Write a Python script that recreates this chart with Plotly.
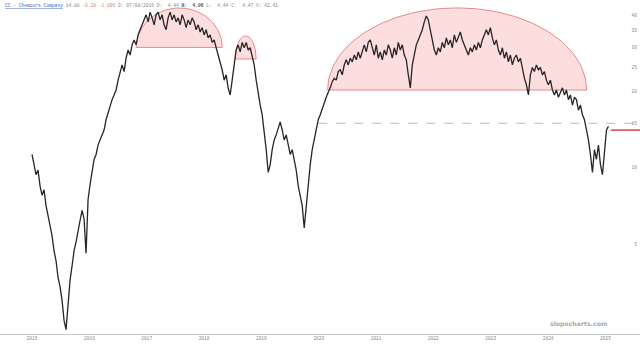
import numpy as np
import pandas as pd
import plotly.graph_objects as go

# ---- data (adjusted close, log scale) ----
start_date = "2015-07-01"
p2015 = [11.3, 10.3, 9.4, 9.8, 8.5, 7.8, 8.2, 7.1, 6.5, 6.0, 5.4, 4.7, 4.3, 3.7,
         3.4, 3.0, 2.5, 2.3, 3.0, 3.6, 4.1, 4.7, 5.1, 5.7, 6.2, 6.8, 6.3, 4.6]
p2016 = [7.5, 8.6, 9.8, 10.8, 11.3, 12.3, 12.9, 13.5, 14.1, 15.5, 16.6, 17.7, 18.6, 19.4,
         20.3, 22.2, 24.0, 25.5, 24.0, 27.1, 29.2, 27.9, 30.6, 32.0, 30.6, 33.5, 35.1, 36.7]
p2017 = [38.4, 40.2, 37.7, 41.2, 39.1, 36.7, 40.2, 41.2, 38.4, 40.2, 36.7, 35.1, 39.1, 41.2,
         38.4, 40.2, 37.7, 39.1, 36.7, 40.2, 38.4, 35.8, 38.4, 36.7, 39.1, 37.7, 35.1, 36.7]
p2018 = [34.4, 35.8, 33.5, 35.1, 32.6, 33.5, 31.3, 32.0, 29.8, 27.9, 26.2, 24.4, 22.2, 23.3,
         20.7, 19.4, 22.2, 26.2, 29.2, 30.6, 28.7, 31.3, 29.8, 31.3, 29.2, 29.8, 27.1, 25.5]
p2019 = [22.2, 19.4, 17.7, 16.2, 14.1, 11.8, 9.6, 10.3, 11.8, 12.9, 13.5, 14.3, 15.2, 14.1,
         12.9, 13.5, 12.3, 11.3, 11.8, 10.8, 9.8, 8.5, 7.8, 7.1, 5.8, 7.1, 8.5, 10.3]
p2020 = [11.8, 12.9, 14.4, 15.5, 16.2, 17.2, 18.2, 19.0, 19.9, 20.7, 21.9, 22.6, 22.2, 24.0,
         24.4, 23.3, 25.5, 26.7, 25.5, 27.1, 26.2, 27.9, 26.7, 28.7, 27.1, 29.2, 30.6, 28.7]
p2021 = [31.3, 32.0, 29.8, 27.9, 30.6, 27.1, 28.7, 26.7, 29.2, 27.9, 30.6, 29.2, 27.1, 29.8,
         27.9, 31.3, 29.2, 30.6, 27.9, 26.7, 23.3, 20.7, 25.5, 27.9, 30.6, 32.0, 33.5, 35.1]
p2022 = [37.7, 39.8, 38.4, 35.1, 32.0, 29.2, 27.9, 29.8, 28.7, 31.3, 29.8, 32.6, 30.6, 32.0,
         29.8, 33.5, 31.3, 32.6, 34.4, 32.0, 30.6, 29.2, 27.9, 29.8, 28.7, 30.6, 29.2, 31.3]
p2023 = [29.8, 32.0, 33.5, 35.1, 33.5, 35.8, 32.6, 30.6, 32.0, 29.2, 27.9, 29.8, 27.1, 28.7,
         26.2, 27.9, 25.5, 27.1, 27.9, 26.2, 27.1, 24.4, 22.6, 21.3, 19.4, 23.3, 24.9, 24.0]
p2024 = [25.5, 24.4, 24.9, 23.3, 24.0, 22.2, 21.3, 22.2, 20.3, 19.4, 20.3, 19.0, 19.9, 20.7,
         19.4, 20.3, 18.6, 19.4, 17.7, 19.0, 18.6, 16.9, 17.7, 16.2, 15.5, 14.1, 12.9, 11.3]
p2025 = [9.6, 11.8, 10.8, 12.3, 10.3, 9.4, 11.8, 14.1, 14.6]

close = p2015 + p2016 + p2017 + p2018 + p2019 + p2020 + p2021 + p2022 + p2023 + p2024 + p2025
dates = pd.date_range(start_date, periods=len(close), freq="306h")

# rounded-top "dome" highlights: start, end, base price, top price
dome_start = ["2017-04-25", "2019-01-15", "2020-08-26"]
dome_end = ["2018-10-25", "2019-05-29", "2025-03-03"]
dome_base = [29.9, 26.9, 20.3]
dome_top = [42.8, 33.2, 42.8]

# reference lines
dash_level = 15.0
dash_start = "2020-06-28"
last_level = 14.1

ytick_vals = [5, 10, 15, 20, 25, 30, 35, 40]
xtick_years = list(range(2015, 2026))

x_range = ["2014-12-09", "2026-02-06"]
y_range = [np.log10(2.21), np.log10(46.0)]

fig = go.Figure()

# domes
for s, e, b, t in zip(dome_start, dome_end, dome_base, dome_top):
    s_ts, e_ts = pd.Timestamp(s), pd.Timestamp(e)
    c = s_ts + (e_ts - s_ts) / 2
    half = (e_ts - s_ts) / 2
    lb, lt = np.log(b), np.log(t)
    th = np.linspace(0, np.pi, 80)
    xs = [c + half * np.cos(v) for v in th]
    ys = list(np.exp(lb + (lt - lb) * np.sin(th)))
    xs.append(xs[0])
    ys.append(ys[0])
    fig.add_trace(go.Scatter(x=xs, y=ys, mode="lines", fill="toself",
                             fillcolor="rgba(248,160,160,0.35)",
                             line=dict(color="#e07070", width=0.8),
                             hoverinfo="skip", showlegend=False))

# dashed level line
fig.add_trace(go.Scatter(x=[dash_start, x_range[1]], y=[dash_level, dash_level],
                         mode="lines", line=dict(color="#aaaaaa", width=0.8, dash="dash"),
                         hoverinfo="skip", showlegend=False))

# price
fig.add_trace(go.Scatter(x=dates, y=close, mode="lines",
                         line=dict(color="#262626", width=1.3),
                         showlegend=False))

# last-price red line
fig.add_trace(go.Scatter(x=[dates[-1] + pd.Timedelta(days=15), x_range[1]],
                         y=[last_level, last_level], mode="lines",
                         line=dict(color="#d23b3b", width=1.4),
                         hoverinfo="skip", showlegend=False))

fig.update_layout(
    width=640, height=345,
    margin=dict(l=0, r=0, t=0, b=11),
    paper_bgcolor="white", plot_bgcolor="white",
    xaxis=dict(type="date", range=x_range, showgrid=False, zeroline=False,
               showline=True, linecolor="#cccccc", linewidth=1,
               tickvals=[f"{y}-07-01" for y in xtick_years],
               ticktext=[str(y) for y in xtick_years],
               tickfont=dict(size=4.5, color="#888888", family="Liberation Mono"),
               ticks="", ticklen=0),
    yaxis=dict(type="log", range=y_range, side="right", showgrid=False,
               zeroline=False, showline=False,
               tickvals=ytick_vals, ticktext=[str(v) for v in ytick_vals],
               ticklabelposition="inside",
               tickfont=dict(size=4.5, color="#888888", family="Liberation Mono"),
               ticks=""),
)

header = ("<span style='color:#3b5fc0'><u>CC - Chemours Company</u></span> "
          "<span style='color:#888888'>14.88</span> "
          "<span style='color:#e08080'>-0.29 -1.89%</span> "
          "<span style='color:#888888'>D: 07/08/2016 O:  4.44 </span>"
          "<span style='color:#555555'><b>H:  4.96</b></span>"
          "<span style='color:#888888'> L:  4.44 C:  4.47 V: 42.41</span>")
fig.add_annotation(text=header, xref="paper", yref="paper", x=0.005, y=0.998,
                   xanchor="left", yanchor="top", showarrow=False,
                   font=dict(size=4.6, family="Liberation Mono", color="#888888"))

fig.add_annotation(text="<b>slopecharts.com</b>", xref="paper", yref="paper",
                   x=0.951, y=0.012, xanchor="right", yanchor="bottom", showarrow=False,
                   font=dict(size=6.2, family="DejaVu Sans", color="#a8a8a8"))

fig.write_html("out.html")
